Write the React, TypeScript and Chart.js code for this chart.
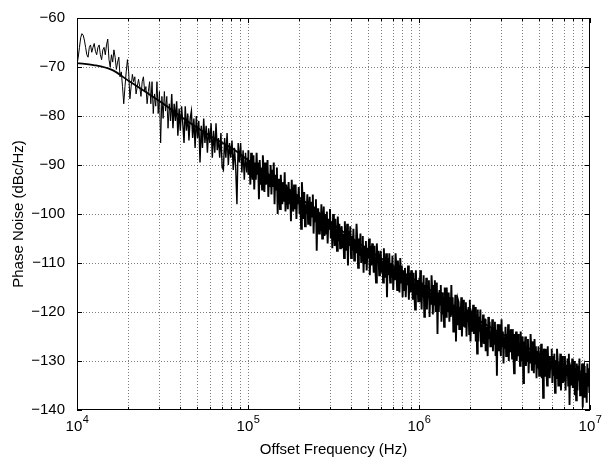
import React, { useEffect, useRef } from "react";
import { Chart, registerables } from "chart.js";

Chart.register(...registerables);

const W = 608;
const H = 461;
const FONT = '"Liberation Sans", Arial, Helvetica, sans-serif';

const xMinHz = 1e4;
const xMaxHz = 1e7;
const xDecadeTicksHz = [1e4, 1e5, 1e6, 1e7];
const xDecadeExponents = ["4", "5", "6", "7"];
const xMinorMultipliers = [2, 3, 4, 5, 6, 7, 8, 9];
const yTickValues = [-140, -130, -120, -110, -100, -90, -80, -70, -60];

const xAxisTitle = "Offset Frequency (Hz)";
const yAxisTitle = "Phase Noise (dBc/Hz)";

// smooth model curve
const modelFreqHz = [1e4, 1.25e4, 1.6e4, 2e4, 2.5e4, 3.2e4, 4e4, 5e4, 6.3e4, 8e4, 1e5, 1.6e5, 2.5e5, 4e5, 6.3e5, 1e6, 1.6e6, 2.5e6, 4e6, 6.3e6, 1e7];
const modelDbc = [-69.2, -69.6, -70.6, -72.8, -75, -77.5, -80, -82.3, -84.5, -86.5, -89, -94, -99.3, -104.8, -109.5, -114, -118.8, -122.7, -126.7, -130, -133];

// measured sweep: three sweep segments, each evenly spaced (log) between its bounds
const sweepSegmentsHz = [
  [1e4, 1e5],
  [1e5, 1e6],
  [1e6, 1e7],
];

const measuredSeg1Dbc = [
  -69.5, -68, -66, -64, -63.2, -63.5, -64.5, -66, -67.5, -68,
  -66, -65.5, -67, -66, -65.2, -66.8, -67.5, -66, -65.5, -67.5,
  -68.5, -66.5, -66, -67.5, -65.5, -64.3, -68.5, -70, -67.5, -69,
  -66.5, -68, -70.5, -69, -68, -72, -71, -74, -77.5, -74,
  -71, -68.5, -71, -76.5, -74, -71.5, -73, -72, -75.5, -74,
  -72.5, -74, -76, -73, -72, -75, -74, -77.5, -75,
  -73, -77.5, -73, -79.5, -75.5, -78, -73, -79.5, -75, -85.5,
  -76, -80.5, -75, -79, -76, -82.5, -77.5, -81, -75.5, -82.5,
  -77.5, -81, -77, -84, -78.5, -83, -78, -81.5, -85.5, -78,
  -83, -79.5, -85, -80.5, -79, -84.5, -80.5, -86.5, -80, -84.5,
  -81, -89.5, -82, -86.5, -80.5, -85.5, -82, -87.5, -82.5, -85.5,
  -81.5, -88.5, -83, -87.5, -81.5, -87, -84.5, -88.5, -83.5, -90.5,
  -91, -84.5, -88.5, -83.5, -90, -85.5, -88.5, -85, -91, -86.5,
  -90.5, -98, -85.5, -89.5, -85.5, -91.5, -87, -93, -87.5, -91.5,
  -88.5,
];

const measuredSeg2Dbc = [
  -87, -92, -89, -94, -87.5, -91, -93, -88, -95, -89.5,
  -93, -87.5, -92, -89.5, -97, -89, -94, -90.5, -95, -88,
  -91, -95.5, -89.5, -94, -93, -89, -96.5, -92, -94.5, -90,
  -96, -91, -94.5, -89.5, -98, -92, -95, -90.5, -100, -93,
  -93, -99, -92, -96, -98, -93.5, -97.5, -91.5, -99.5, -94,
  -95.5, -99, -93.5, -98, -95, -101.5, -93, -97.5, -99.5, -94,
  -99, -94, -101, -96, -98, -94.5, -100, -97, -103, -93.5,
  -97, -101, -95.5, -102.5, -98, -100, -96, -102, -99.5, -96.5,
  -102.5, -97.5, -100.5, -96, -104, -98.5, -101.5, -97, -107.5, -99,
  -99, -104, -100, -103.5, -98, -105, -102, -98.5, -104.5, -100,
  -104, -99.5, -106, -101, -103, -99, -105, -101.5, -107, -100,
  -102.5, -106.5, -101, -105, -107.5, -100.5, -105.5, -102, -107, -103.5,
  -102.5, -107, -104, -109, -101.5, -105.5, -107.5, -102, -110.5, -103.5,
  -106.5, -102.5, -109, -104.5, -107.5, -103, -109.5, -105.5, -108, -102,
  -105.5, -111, -105, -108.5, -104, -110, -108, -104.5, -112, -106.5,
  -110, -105.5, -111.5, -107, -109, -105, -112.5, -106.5, -110.5, -106,
  -108, -112, -106.5, -111, -114, -106, -110, -107.5, -112.5, -109.5,
  -107.5, -112, -109.5, -114, -107, -111.5, -113, -108, -117, -109,
  -112.5, -108, -114, -110, -113, -108.5, -115.5, -111, -113.5, -108,
  -111, -115.5, -109.5, -113, -116, -109, -114, -110.5, -117, -111.5,
  -115.5, -111, -117, -112.5, -114.5, -110.5, -117.5, -112, -116, -111.5,
  -113, -117.5, -112, -116, -119.5, -111.5, -116.5, -113.5, -118, -114.5,
];

const measuredSeg3Dbc = [
  -113, -118, -111.5, -116, -119.5, -114, -117, -112.5, -121, -114.5,
  -117.5, -113, -119.5, -114.5, -117, -113.5, -121, -116, -118.5, -112.5,
  -115.5, -120.5, -114.5, -118.5, -113.5, -120, -117.5, -114, -124.5, -116,
  -120, -115.5, -118.5, -114.5, -122, -116, -120.5, -117, -123, -115,
  -116.5, -121, -115, -120, -119, -116, -122, -117, -121, -114.5,
  -120.5, -117, -124, -118.5, -122, -116.5, -126, -119, -122.5, -117.5,
  -118, -123.5, -119, -121.5, -117, -125, -121, -117.5, -123, -120,
  -123, -118, -125, -119.5, -122, -119, -124.5, -117.5, -126, -120,
  -120.5, -124, -118.5, -124.5, -122, -119, -126, -120.5, -128.5, -119.5,
  -126, -121, -124, -119.5, -127, -122.5, -125, -120.5, -126.5, -121.5,
  -121.5, -128, -123, -126, -129, -121, -125.5, -122, -127, -124,
  -125.5, -121.5, -128, -123, -126.5, -122, -129, -124, -133, -122.5,
  -123.5, -128, -122.5, -126.5, -129, -121.5, -127, -124, -130.5, -125,
  -127.5, -123, -129, -124.5, -126.5, -122.5, -130, -124, -128, -123.5,
  -125.5, -129.5, -123.5, -128.5, -132.5, -124.5, -127.5, -124, -130, -127,
  -124.5, -129, -126.5, -131, -124, -128.5, -130, -125, -134.5, -126,
  -129.5, -125, -131, -127, -130, -125.5, -132.5, -128, -130.5, -124.5,
  -127.5, -132, -126, -129.5, -132.5, -125.5, -130.5, -127, -133.5, -128,
  -131.5, -127, -133, -128.5, -130.5, -126.5, -133.5, -128, -137.5, -127.5,
  -128.5, -133, -127.5, -131.5, -135, -127, -132, -129, -133.5, -130,
  -131.5, -127.5, -134.5, -129, -133, -128.5, -136.5, -130, -133.5, -127.5,
  -129.5, -135, -130.5, -133, -128.5, -136, -132.5, -129, -134.5, -131,
  -134, -129, -136, -131, -133, -129.5, -135, -128.5, -139, -131,
  -131.5, -135, -129.5, -135.5, -133, -130, -137, -131.5, -138, -130.5,
  -136, -131, -134, -129.5, -137, -132.5, -135, -130.5, -139.5, -131.5,
  -131, -137.5, -132.5, -135.5, -138.5, -130.5, -135, -131.5, -136.5, -133.5,
];

const measuredSegmentsDbc = [measuredSeg1Dbc, measuredSeg2Dbc, measuredSeg3Dbc];

function buildMeasured() {
  const pts: { x: number; y: number }[] = [];
  sweepSegmentsHz.forEach(([a, b], s) => {
    const vals = measuredSegmentsDbc[s];
    const n = vals.length;
    vals.forEach((v, i) => {
      pts.push({ x: a * Math.pow(b / a, i / (n - 1)), y: v });
    });
  });
  return pts;
}

function gridFrequencies() {
  const out: { v: number; major: boolean }[] = [];
  for (let d = 0; d < xDecadeTicksHz.length; d++) {
    out.push({ v: xDecadeTicksHz[d], major: true });
    if (d < xDecadeTicksHz.length - 1) {
      xMinorMultipliers.forEach((m) => out.push({ v: xDecadeTicksHz[d] * m, major: false }));
    }
  }
  return out;
}

const matlabAxes = {
  id: "matlabAxes",
  beforeDatasetsDraw(chart: any) {
    const { ctx, chartArea: a, scales } = chart;
    const xs = scales.x;
    const ys = scales.y;
    ctx.save();
    ctx.strokeStyle = "rgba(0,0,0,0.5)";
    ctx.lineWidth = 1;
    ctx.setLineDash([1, 2]);
    for (const g of gridFrequencies()) {
      const px = Math.round(xs.getPixelForValue(g.v)) + 0.5;
      if (px <= a.left + 1 || px >= a.right - 1) continue;
      ctx.beginPath();
      ctx.moveTo(px, a.top);
      ctx.lineTo(px, a.bottom);
      ctx.stroke();
    }
    for (const v of yTickValues) {
      const py = Math.round(ys.getPixelForValue(v)) + 0.5;
      if (py <= a.top + 1 || py >= a.bottom - 1) continue;
      ctx.beginPath();
      ctx.moveTo(a.left, py);
      ctx.lineTo(a.right, py);
      ctx.stroke();
    }
    ctx.restore();
  },
  afterDatasetsDraw(chart: any) {
    const { ctx, chartArea: a, scales } = chart;
    const xs = scales.x;
    const ys = scales.y;
    ctx.save();
    ctx.setLineDash([]);
    ctx.strokeStyle = "#000";
    ctx.lineWidth = 1;
    ctx.strokeRect(a.left + 0.5, a.top + 0.5, a.right - a.left - 1, a.bottom - a.top - 1);
    ctx.beginPath();
    for (const g of gridFrequencies()) {
      const px = Math.round(xs.getPixelForValue(g.v)) + 0.5;
      const len = g.major ? 5 : 3;
      ctx.moveTo(px, a.bottom);
      ctx.lineTo(px, a.bottom - len);
      ctx.moveTo(px, a.top);
      ctx.lineTo(px, a.top + len);
    }
    for (const v of yTickValues) {
      const py = Math.round(ys.getPixelForValue(v)) + 0.5;
      ctx.moveTo(a.left, py);
      ctx.lineTo(a.left + 5, py);
      ctx.moveTo(a.right, py);
      ctx.lineTo(a.right - 5, py);
    }
    ctx.stroke();

    ctx.fillStyle = "#000";
    ctx.textBaseline = "alphabetic";
    ctx.textAlign = "left";
    xDecadeTicksHz.forEach((v, i) => {
      const px = xs.getPixelForValue(v);
      ctx.font = `15px ${FONT}`;
      const wBase = ctx.measureText("10").width;
      ctx.font = `11px ${FONT}`;
      const wExp = ctx.measureText(xDecadeExponents[i]).width;
      const start = px - (wBase + wExp) / 2;
      ctx.font = `15px ${FONT}`;
      ctx.fillText("10", start, a.bottom + 21);
      ctx.font = `11px ${FONT}`;
      ctx.fillText(xDecadeExponents[i], start + wBase + 0.5, a.bottom + 13);
    });
    ctx.restore();
  },
};

export default function App() {
  const canvasRef = useRef<HTMLCanvasElement | null>(null);

  useEffect(() => {
    const canvas = canvasRef.current;
    if (!canvas) return;
    const chart = new Chart(canvas, {
      type: "line",
      data: {
        datasets: [
          {
            label: "model",
            data: modelFreqHz.map((f, i) => ({ x: f, y: modelDbc[i] })),
            borderColor: "#000",
            borderWidth: 1.8,
            pointRadius: 0,
            cubicInterpolationMode: "monotone",
            fill: false,
          },
          {
            label: "measured",
            data: buildMeasured(),
            borderColor: "#000",
            borderWidth: 1,
            pointRadius: 0,
            tension: 0,
            fill: false,
            segment: {
              borderWidth: (c: any) => {
                const x = c.p0.parsed.x;
                if (x < 3.5e4) return 1;
                if (x < 1e5) return 1.4;
                return 1.9;
              },
            },
          },
        ],
      },
      plugins: [matlabAxes],
      options: {
        responsive: false,
        animation: false,
        devicePixelRatio: 1,
        layout: { padding: { left: 0, right: 18, top: 18, bottom: 0 } },
        plugins: { legend: { display: false }, tooltip: { enabled: false } },
        scales: {
          x: {
            type: "logarithmic",
            min: xMinHz,
            max: xMaxHz,
            grid: { display: false },
            border: { display: false },
            ticks: { display: false },
            title: {
              display: true,
              text: xAxisTitle,
              color: "#000",
              font: { family: FONT, size: 15 },
              padding: { top: 0, bottom: 2 },
            },
            afterFit: (s: any) => {
              s.height = 51;
            },
          },
          y: {
            type: "linear",
            min: -140,
            max: -60,
            grid: { display: false },
            border: { display: false },
            afterBuildTicks: (s: any) => {
              s.ticks = yTickValues.map((v) => ({ value: v }));
            },
            ticks: {
              color: "#000",
              font: { family: FONT, size: 15 },
              padding: 4,
              callback: (v: any) => (Number(v) < 0 ? "\u2212" : "") + Math.abs(Number(v)),
            },
            title: {
              display: true,
              text: yAxisTitle,
              color: "#000",
              font: { family: FONT, size: 15 },
              padding: { top: 10, bottom: 0 },
            },
            afterFit: (s: any) => {
              s.width = 77;
            },
          },
        },
      } as any,
    });
    return () => chart.destroy();
  }, []);

  return (
    <div style={{ position: "fixed", left: 0, top: 0, width: W, height: H, background: "#fff" }}>
      <canvas ref={canvasRef} width={W} height={H} style={{ width: W, height: H, display: "block" }} />
    </div>
  );
}
